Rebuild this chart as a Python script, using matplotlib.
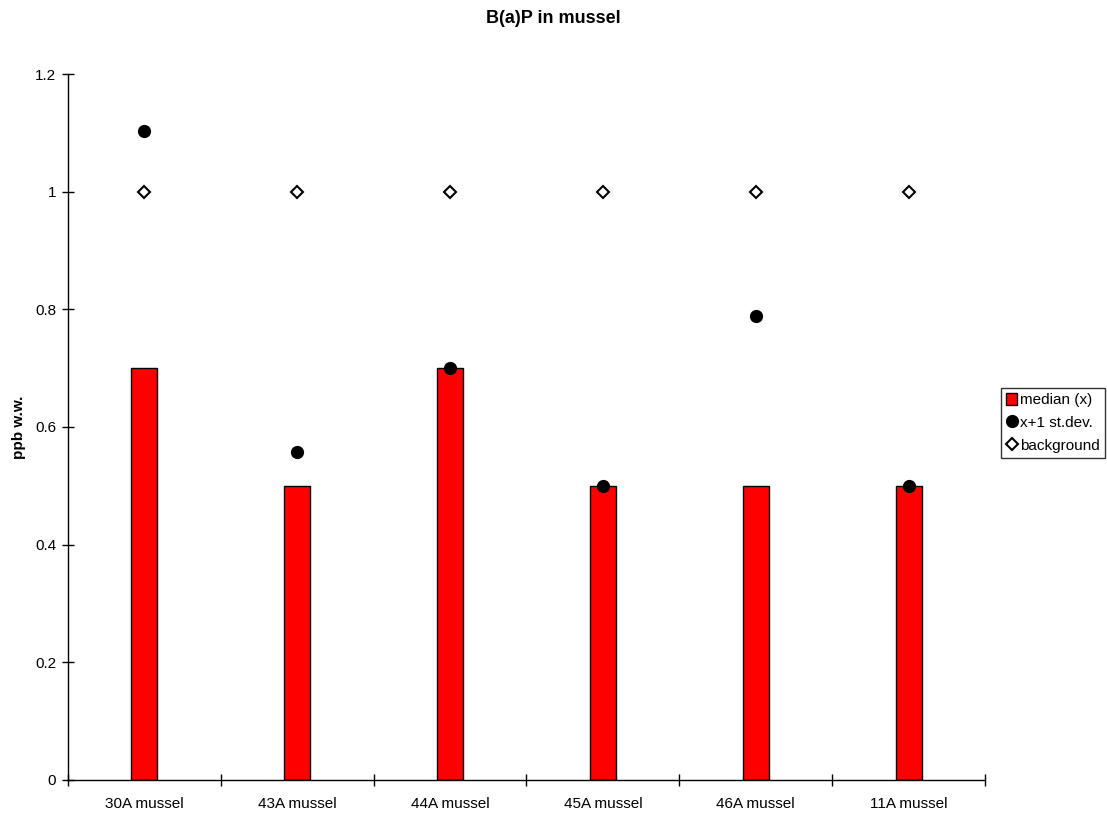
import numpy as np
import matplotlib.pyplot as plt
from matplotlib.ticker import FixedLocator, NullFormatter

plt.rcParams['font.family'] = ['Liberation Sans', 'DejaVu Sans']

sites = ['30A mussel', '43A mussel', '44A mussel', '45A mussel', '46A mussel', '11A mussel']
median = [0.7, 0.5, 0.7, 0.5, 0.5, 0.5]
plus_sd = [1.104, 0.558, 0.70, 0.50, 0.789, 0.50]
background = [1.0, 1.0, 1.0, 1.0, 1.0, 1.0]

fig = plt.figure(figsize=(11.07, 8.18), dpi=100)
ax = fig.add_axes([0.0614, 0.0465, 0.8284, 0.863])

x = np.arange(len(sites))
b = ax.bar(x, median, width=0.17, color='#ff0000', edgecolor='black', linewidth=1.0,
           label='median (x)', zorder=2)
p1, = ax.plot(x, plus_sd, 'o', color='black', markersize=8.5, linestyle='none',
              label='x+1 st.dev.', zorder=3)
p2, = ax.plot(x, background, 'D', markerfacecolor='white', markeredgecolor='black',
              markersize=6, markeredgewidth=1.5, linestyle='none', label='background', zorder=3)

ax.set_xlim(-0.5, len(sites) - 0.5)
ax.set_ylim(0, 1.2)
ax.set_yticks([0, 0.2, 0.4, 0.6, 0.8, 1.0, 1.2])
ax.set_yticklabels(['0', '0.2', '0.4', '0.6', '0.8', '1', '1.2'])
ax.set_xticks(x)
ax.set_xticklabels(sites)
ax.xaxis.set_minor_locator(FixedLocator(np.arange(len(sites) + 1) - 0.5))
ax.xaxis.set_minor_formatter(NullFormatter())
ax.tick_params(axis='x', which='major', length=0, pad=12, labelsize=11)
ax.tick_params(axis='x', which='minor', direction='inout', length=9, width=1)
ax.tick_params(axis='y', direction='inout', length=9, width=1, labelsize=11, pad=4)

for s in ['top', 'right']:
    ax.spines[s].set_visible(False)
for s in ['left', 'bottom']:
    ax.spines[s].set_linewidth(1)

ax.set_ylabel('ppb w.w.', fontsize=11, fontweight='bold')
ax.yaxis.set_label_coords(-0.046, 0.5)
fig.text(0.5, 0.977, 'B(a)P in mussel', ha='center', va='center', fontsize=13, fontweight='bold')

leg = ax.legend([b, p1, p2], ['median (x)', 'x+1 st.dev.', 'background'],
                loc='center left', bbox_to_anchor=(1.0175, 0.5057), frameon=True, fancybox=False,
                edgecolor='black', fontsize=11, handlelength=0.7, handletextpad=0.2,
                borderpad=0.35, labelspacing=0.57, borderaxespad=0.0, handleheight=0.8)
leg.get_frame().set_linewidth(1)

fig.savefig('out.png', dpi=100)
